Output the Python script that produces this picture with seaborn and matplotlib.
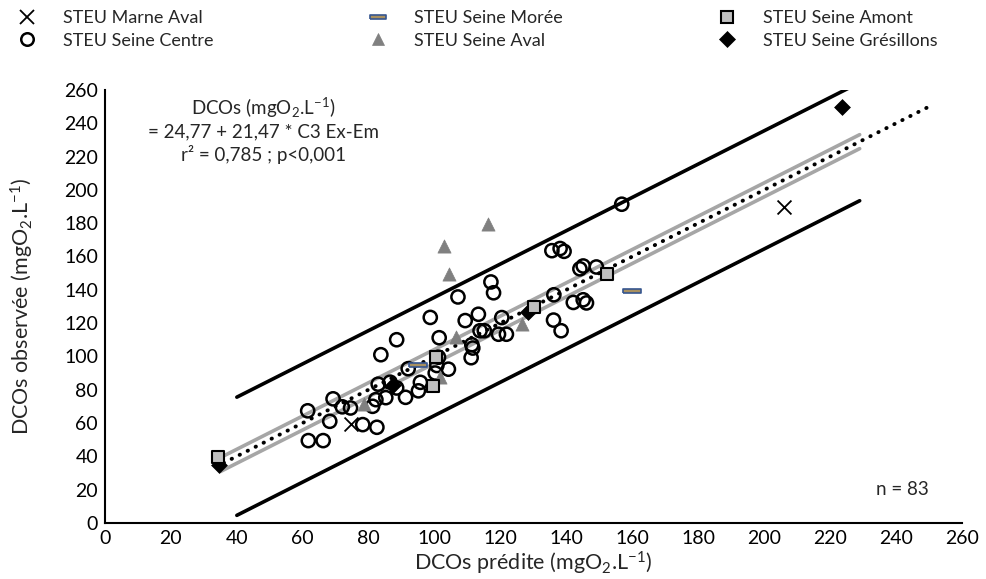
import numpy as np
import pandas as pd
import matplotlib.pyplot as plt
import seaborn as sns
from matplotlib.lines import Line2D

# Observed vs predicted DCOs, per treatment plant
marne_x = [74.7, 206.0]
marne_y = [59.5, 190.0]

centre_x = [61.5, 61.7, 66.2, 68.2, 69.2, 72.0, 74.5, 78.2, 82.5, 81.2,
            82.2, 85.2, 82.9, 86.5, 88.5, 83.7, 88.5, 91.2, 92.0, 95.7,
            95.1, 98.7, 100.7, 100.2, 101.2, 101.4, 104.2, 107.1, 109.3, 111.3,
            111.6, 111.1, 113.3, 113.8, 115.1, 117.1, 117.9, 119.4, 121.8, 120.4,
            135.6, 138.1, 139.3, 136.2, 136.1, 138.4, 142.1, 145.1, 146.1, 144.1,
            145.1, 149.1, 156.8]
centre_y = [67.3, 49.4, 49.4, 61.0, 74.5, 69.7, 69.0, 59.0, 57.4, 70.0,
            74.0, 75.2, 83.3, 84.5, 81.0, 101.0, 110.0, 75.4, 92.6, 84.4,
            79.3, 123.4, 94.5, 90.0, 99.5, 111.2, 92.3, 135.7, 121.5, 107.0,
            105.0, 99.2, 125.3, 115.4, 115.4, 144.7, 138.2, 113.3, 113.3, 123.3,
            163.5, 164.8, 163.1, 137.0, 121.8, 115.4, 132.4, 134.0, 132.1, 152.6,
            154.3, 153.7, 191.4]

moree_x = [95.1, 159.8]
moree_y = [95.0, 139.0]

aval_x = [78.7, 101.5, 104.4, 102.9, 106.4, 116.1, 126.6]
aval_y = [71.5, 87.7, 149.5, 166.3, 111.8, 179.8, 119.5]

amont_x = [34.2, 99.5, 100.5, 130.2, 152.4]
amont_y = [39.8, 82.0, 99.5, 129.6, 149.5]

gres_x = [34.5, 87.5, 128.4, 223.5]
gres_y = [34.5, 83.0, 126.4, 250.0]

# fit (observed ~ predicted) with confidence and prediction bands
fit_intercept = 0.0
fit_slope = 1.0
ci_half = 4.2
pi_half = 35.5
fit_range = [36, 250]
ci_range = [35, 229]
pi_range = [40, 229]

sns.set_style("white")
plt.rcParams['font.family'] = ['Lato', 'DejaVu Sans']
plt.rcParams['mathtext.default'] = 'regular'

fig = plt.figure(figsize=(9.86, 5.79), dpi=100)
ax = fig.add_axes([0.1065, 0.097, 0.869, 0.7475])

# bands and fit line
xf = np.array(fit_range, dtype=float)
xc = np.array(ci_range, dtype=float)
xp = np.array(pi_range, dtype=float)
fit = lambda x: fit_intercept + fit_slope * x
for off in (-pi_half, pi_half):
    sns.lineplot(x=xp, y=fit(xp) + off, color='black', lw=2.6, ax=ax, zorder=1)
for off in (-ci_half, ci_half):
    sns.lineplot(x=xc, y=fit(xc) + off, color='#a6a6a6', lw=2.6, ax=ax, zorder=1)
ax.plot(xf, fit(xf), color='black', lw=2.8, linestyle=(0, (0.1, 2.2)),
        dash_capstyle='round', zorder=2)

dash_marker = [(-1, -0.28), (1, -0.28), (1, 0.28), (-1, 0.28), (-1, -0.28)]

styles = {
    "STEU Marne Aval": dict(marker='x', s=100, color='black', linewidth=1.3),
    "STEU Seine Centre": dict(marker='o', s=90, facecolor='none', edgecolor='black', linewidth=1.8),
    "STEU Seine Morée": dict(marker=dash_marker, s=150, color='#a89060', edgecolor='#35558f', linewidth=1.2),
    "STEU Seine Aval": dict(marker='^', s=90, color='#808080', edgecolor='#808080', linewidth=0.5),
    "STEU Seine Grésillons": dict(marker='D', s=65, color='black', edgecolor='black', linewidth=0.5),
    "STEU Seine Amont": dict(marker='s', s=80, color='#c0c0c0', edgecolor='black', linewidth=1.5),
}
series = {
    "STEU Marne Aval": (marne_x, marne_y),
    "STEU Seine Centre": (centre_x, centre_y),
    "STEU Seine Morée": (moree_x, moree_y),
    "STEU Seine Aval": (aval_x, aval_y),
    "STEU Seine Grésillons": (gres_x, gres_y),
    "STEU Seine Amont": (amont_x, amont_y),
}
for name, (xs, ys) in series.items():
    df = pd.DataFrame({"pred": xs, "obs": ys})
    sns.scatterplot(data=df, x="pred", y="obs", ax=ax, zorder=3, **styles[name])

ax.set_xlim(0, 260)
ax.set_ylim(0, 260)
ax.set_xticks(range(0, 261, 20))
ax.set_yticks(range(0, 261, 20))
ax.tick_params(direction='in', length=6, width=1.3, labelsize=14, pad=5, colors='black')
for side in ('top', 'right'):
    ax.spines[side].set_visible(False)
for side in ('left', 'bottom'):
    ax.spines[side].set_linewidth(1.5)
    ax.spines[side].set_color('black')
ax.set_xlabel("DCOs prédite (mgO$_2$.L$^{-1}$)", fontsize=15.5, labelpad=2)
ax.set_ylabel("DCOs observée (mgO$_2$.L$^{-1}$)", fontsize=15.5, labelpad=20)

ax.text(48, 249, "DCOs (mgO$_2$.L$^{-1}$)", ha='center', va='center', fontsize=13.5)
ax.text(48, 235, "= 24,77 + 21,47 * C3 Ex-Em", ha='center', va='center', fontsize=13.5)
ax.text(48, 221, "r² = 0,785 ; p<0,001", ha='center', va='center', fontsize=13.5)
ax.text(250, 20, "n = 83", ha='right', va='center', fontsize=13.5)

def handle(name):
    st = styles[name]
    return Line2D([], [], linestyle='none', marker=st['marker'],
                  markersize=np.sqrt(st['s']) * 0.95,
                  markerfacecolor=st.get('facecolor', st.get('color')),
                  markeredgecolor=st.get('edgecolor', st.get('color')),
                  markeredgewidth=st['linewidth'])

order = ["STEU Marne Aval", "STEU Seine Centre", "STEU Seine Morée",
         "STEU Seine Aval", "STEU Seine Amont", "STEU Seine Grésillons"]
fig.legend([handle(n) for n in order], order, loc='upper left',
           bbox_to_anchor=(0.0, 1.01), ncol=3, frameon=False, fontsize=13,
           handlelength=1.2, handletextpad=1.4, columnspacing=8.5,
           labelspacing=0.35)

fig.savefig("out.png", dpi=100)
